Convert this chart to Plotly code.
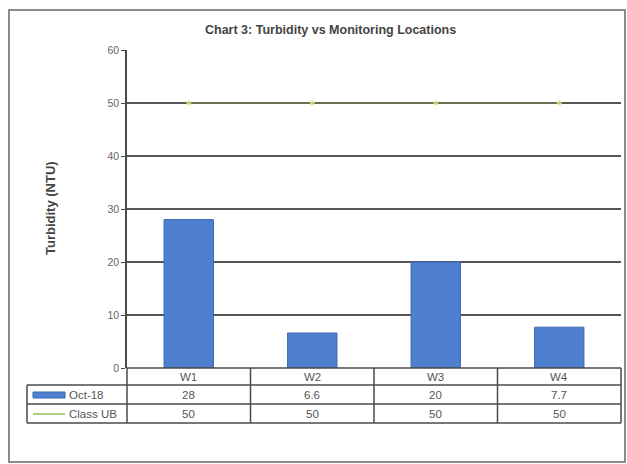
import plotly.graph_objects as go

# Data
locations = ["W1", "W2", "W3", "W4"]
turbidity_oct18 = [28, 6.6, 20, 7.7]
class_ub = [50, 50, 50, 50]
series_names = ["Oct-18", "Class UB"]
y_ticks = [0, 10, 20, 30, 40, 50, 60]

W, H = 627, 464
L, R, T, B = 127, 621, 50, 368  # plot area in pixels

def px(x):
    return (x - L) / (R - L)

def py(y):
    return (B - y) / (B - T)

LINE = "#4a4a4a"
TXT = "#555555"
FONT = "Liberation Sans, Arial, sans-serif"

fig = go.Figure()

fig.add_trace(go.Bar(
    x=locations, y=turbidity_oct18, name=series_names[0],
    width=0.4,
    marker=dict(color="#4F7FCF", line=dict(color="#3B68B3", width=1)),
))
fig.add_trace(go.Scatter(
    x=locations, y=class_ub, name=series_names[1], mode="lines+markers",
    line=dict(color="rgba(150,185,80,0.55)", width=1),
    marker=dict(size=5, color="rgba(225,225,140,0.8)", symbol="circle"),
))

shapes = []

def hline(x0, x1, y, w=1.5):
    shapes.append(dict(type="line", xref="paper", yref="paper",
                       x0=px(x0), x1=px(x1), y0=py(y), y1=py(y),
                       line=dict(color=LINE, width=w)))

def vline(x, y0, y1, w=1.5):
    shapes.append(dict(type="line", xref="paper", yref="paper",
                       x0=px(x), x1=px(x), y0=py(y0), y1=py(y1),
                       line=dict(color=LINE, width=w)))

# Outer chart border
shapes.append(dict(type="rect", xref="paper", yref="paper",
                   x0=px(9), x1=px(625), y0=py(10), y1=py(462),
                   line=dict(color="#666666", width=1.5)))

# Data table grid
row_y = [368, 385, 404, 423]
hline(L, R, 368)
for yy in row_y[1:]:
    hline(27, R, yy)
vline(27, 385, 423)
vline(L, 368, 423)
cat_w = (R - L) / len(locations)
for i in range(1, len(locations)):
    vline(L + i * cat_w, 368, 423)
vline(R, 368, 423)

# Legend keys inside the table
shapes.append(dict(type="rect", xref="paper", yref="paper",
                   x0=px(33), x1=px(65), y0=py(398), y1=py(392),
                   fillcolor="#4F7FCF", line=dict(color="#3B68B3", width=1)))
shapes.append(dict(type="line", xref="paper", yref="paper",
                   x0=px(33), x1=px(65), y0=py(414), y1=py(414),
                   line=dict(color="#9BBB59", width=1.5)))

cell_font = dict(size=11.5, color=TXT, family=FONT)
annotations = []
# Header row: location names
for loc in locations:
    annotations.append(dict(x=loc, y=py(377), xref="x", yref="paper", text=loc,
                            xanchor="center", yanchor="middle",
                            showarrow=False, font=cell_font))
# Value rows
for vals, yc in ((turbidity_oct18, 395), (class_ub, 414)):
    for loc, v in zip(locations, vals):
        annotations.append(dict(x=loc, y=py(yc), xref="x", yref="paper", text=f"{v:g}",
                                xanchor="center", yanchor="middle",
                                showarrow=False, font=cell_font))
# Row labels
for name, yc in zip(series_names, (395, 414)):
    annotations.append(dict(x=px(67), y=py(yc), xref="paper", yref="paper", text=name,
                            xanchor="left", yanchor="middle", showarrow=False,
                            font=cell_font))
# Title and axis title
annotations.append(dict(x=px(330), y=py(30), xref="paper", yref="paper",
                        text="<b>Chart 3: Turbidity vs Monitoring Locations</b>",
                        xanchor="center", yanchor="middle",
                        showarrow=False, font=dict(size=12.5, color="#444444", family=FONT)))
annotations.append(dict(x=px(50), y=py(208), xref="paper", yref="paper",
                        text="<b>Turbidity (NTU)</b>", textangle=-90,
                        xanchor="center", yanchor="middle",
                        showarrow=False, font=dict(size=13, color="#444444", family=FONT)))

fig.update_layout(
    width=W, height=H,
    margin=dict(l=L, r=W - R, t=T, b=H - B),
    paper_bgcolor="white", plot_bgcolor="white",
    showlegend=False,
    shapes=shapes, annotations=annotations,
    xaxis=dict(type="category", range=[-0.5, 3.5], showticklabels=False,
               showgrid=False, zeroline=False, showline=False, ticks=""),
    yaxis=dict(range=[0, 60], tickvals=y_ticks, showgrid=True, gridcolor="#555555",
               gridwidth=1.5, zeroline=False, showline=True, linecolor=LINE, linewidth=1.5,
               ticks="outside", ticklen=4, tickcolor=LINE, tickwidth=1,
               tickfont=dict(size=10.5, color="#666666", family=FONT)),
    bargap=0.6,
)

fig.write_html("out.html")
